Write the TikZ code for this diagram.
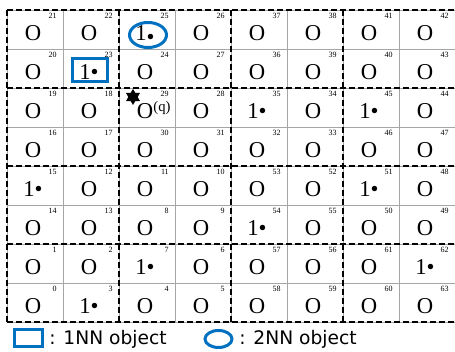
\documentclass[tikz,border=0pt]{standalone}
\usepackage{fontspec}
\setmainfont{Liberation Serif}
\newfontfamily\legendfont{DejaVu Sans}
\usetikzlibrary{shapes.geometric}
\definecolor{nnblue}{RGB}{0,112,192}

\begin{document}
\begin{tikzpicture}[x=0.75pt,y=-0.75pt,
    cellline/.style={gray!70,line width=0.6pt},
    blockline/.style={black,line width=1.5pt,dash pattern=on 4.5pt off 2.25pt},
    cellnum/.style={anchor=base east,inner sep=0pt,font=\fontsize{6}{7}\selectfont},
    cellobj/.style={anchor=base,inner sep=0pt,font=\fontsize{17}{20}\selectfont},
    nnone/.style={draw=nnblue,line width=2.25pt,inner sep=0pt},
    nntwo/.style={draw=nnblue,line width=2.25pt,ellipse,inner sep=0pt},
    legendtext/.style={anchor=base west,inner sep=0pt,font=\legendfont\fontsize{14}{16}\selectfont}]
  \useasboundingbox (0,0) rectangle (455,352);

  % cell lines and 2x2 blocks
  \foreach \i in {0,...,7}
    \draw[cellline] ({7+56*\i},10) -- ({7+56*\i},322);
  \foreach \i in {0,...,8}
    \draw[cellline] (7,{10+39*\i}) -- (455,{10+39*\i});
  \foreach \i in {0,2,4,6}
    \draw[blockline] ({7+56*\i},10) -- ({7+56*\i},322);
  \foreach \i in {0,2,4,6,8}
    \draw[blockline] (7,{10+39*\i}) -- (455,{10+39*\i});

  % cells: number/object (0 = O, 1 = 1 point)
  \foreach \row [count=\r from 0] in {
      {21/0,22/0,25/2,26/0,37/0,38/0,41/0,42/0},
      {20/0,23/1,24/0,27/0,36/0,39/0,40/0,43/0},
      {19/0,18/0,29/0,28/0,35/1,34/0,45/1,44/0},
      {16/0,17/0,30/0,31/0,32/0,33/0,46/0,47/0},
      {15/1,12/0,11/0,10/0,53/0,52/0,51/1,48/0},
      {14/0,13/0,8/0,9/0,54/1,55/0,50/0,49/0},
      {1/0,2/0,7/1,6/0,57/0,56/0,61/0,62/1},
      {0/0,3/1,4/0,5/0,58/0,59/0,60/0,63/0}}
    \foreach \n/\v [count=\c from 0] in \row {
      \node[cellnum] (num\n) at ({7+56*\c+50},{10+39*\r+9}) {\n};
      \node[cellobj] (obj\n) at ({7+56*\c+26},{10+39*\r+31})
        {\ifcase\v O\or 1\textbullet\or 1\raisebox{-0.3ex}{\textbullet}\fi};
    }

  % query point
  \node[star,star points=6,star point ratio=1.7,fill=black,inner sep=0pt,
    minimum size=12pt] (q) at (133,97) {};
  \node[font=\fontsize{11}{13}\selectfont,inner sep=0pt] (qlabel) at (162,108) {(q)};

  % nearest neighbours
  \node[nnone,minimum width=26.25pt,minimum height=17.25pt] (first) at (90,70) {};
  \node[nntwo,minimum width=27.75pt,minimum height=18.75pt] (second) at (148,35) {};

  % legend
  \node[nnone,minimum width=21pt,minimum height=12.75pt] (keyone) at (29,338.5) {};
  \node[legendtext] (keyonetext) at (49,345) {: 1NN object};
  \node[nntwo,minimum width=20.25pt,minimum height=12.75pt] (keytwo) at (218.5,339) {};
  \node[legendtext] (keytwotext) at (239,345) {: 2NN object};
\end{tikzpicture}
\end{document}
